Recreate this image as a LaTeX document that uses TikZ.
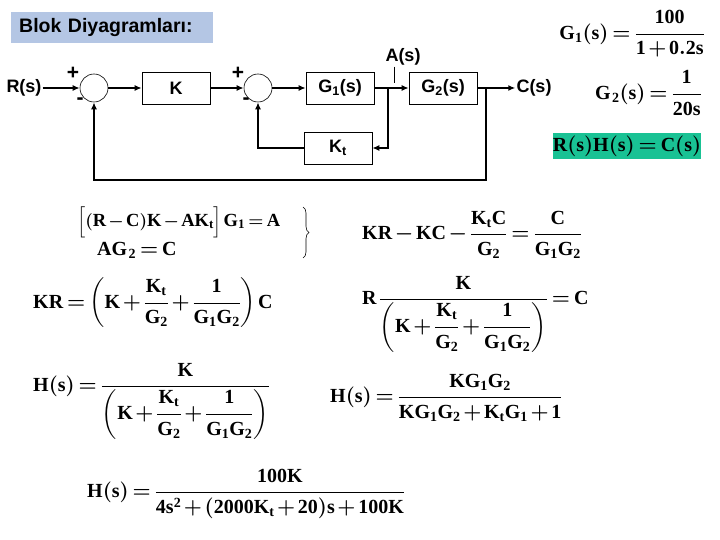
\documentclass[tikz,border=0pt]{standalone}
\usepackage{amsmath}
\usepackage{fontspec}
\setmainfont{Liberation Serif}
\setsansfont{Liberation Sans}
\newfontfamily\eqfont[NFSSFamily=lsr]{Liberation Serif}
\DeclareMathAlphabet{\mathbf}{TU}{lsr}{bx}{n}
\DeclareSymbolFont{operators}{TU}{lsr}{m}{n}
\SetSymbolFont{operators}{bold}{TU}{lsr}{bx}{n}
\providecommand{\eqspacing}{\medmuskip=2mu\thickmuskip=3mu\thinmuskip=1.5mu}
\usetikzlibrary{arrows.meta,decorations.pathreplacing}
\definecolor{titleblue}{RGB}{180,198,228}
\definecolor{resgreen}{RGB}{25,194,148}
\tikzset{
  sig/.style={line width=1.4pt, -{Latex[length=7pt,width=6pt]}},
  block/.style={draw, line width=0.6pt, minimum width=68pt, minimum height=32pt, inner sep=0pt,
    font=\sffamily\bfseries\fontsize{18}{20}\selectfont},
  sumnode/.style={draw, circle, line width=0.6pt, minimum size=28pt, inner sep=0pt},
  lbl/.style={inner sep=1pt, font=\sffamily\bfseries\fontsize{18}{20}\selectfont},
  sign/.style={inner sep=0pt, font=\sffamily\bfseries\fontsize{21}{22}\selectfont},
  eqn/.style={inner sep=0pt, anchor=west, font=\fontsize{20}{24}\selectfont\boldmath\eqspacing},
  bracenode/.style={line width=0.6pt, decorate, decoration={brace, amplitude=6pt}}
}
\begin{document}
\begin{tikzpicture}[x=1pt, y=-1pt]
\useasboundingbox (0,0) rectangle (720,540);
% Title
\node[lbl, font=\sffamily\bfseries\fontsize{19.5}{22}\selectfont, fill=titleblue, anchor=west, minimum height=31pt, inner xsep=8pt, text width=186pt, align=left] (title) at (11,27.5) {Blok Diyagramlar\i:};
% Blocks and summing points
\node[lbl] (R) at (24,88) {R(s)};
\node[sumnode] (s1) at (94,88) {};
\node[block] (K) at (176,88) {K};
\node[sumnode] (s2) at (258,88) {};
\node[block] (G1) at (340,88) {G\textsubscript{1}(s)};
\node[block] (G2) at (443,88) {G\textsubscript{2}(s)};
\node[block] (Kt) at (338,148) {K\textsubscript{t}};
\node[lbl] (C) at (534,88) {C(s)};
\node[lbl] (As) at (403,57) {A(s)};
\coordinate (A) at (388,88);
\coordinate (Cb) at (486,88);
\coordinate (fb) at (486,180);
% Signs
\node[sign] (p1) at (73,73) {+};
\node[sign] (m1) at (80,101) {-};
\node[sign] (p2) at (238,73) {+};
\node[sign] (m2) at (246,101) {-};
% Signals
\draw[sig] (R) -- (s1);
\draw[sig] (s1) -- (K);
\draw[sig] (K) -- (s2);
\draw[sig] (s2) -- (G1);
\draw[sig] (G1) -- (G2);
\draw[sig] (G2) -- (C);
\draw[sig] (A) |- (Kt);
\draw[sig] (Kt) -| (s2);
\draw[sig] (Cb) -- (fb) -| (s1);
\draw[line width=0.6pt] ([xshift=-9pt]As.south) -- ++(0,16);
% Given transfer functions
\node[eqn, anchor=east] (g1) at (705,34) {$\mathbf{G_1(s)}=\dfrac{\mathbf{100}}{\mathbf{1+0.2s}}$};
\node[eqn, anchor=east] (g2) at (702,93) {$\mathbf{G_{\,2}(s)}=\dfrac{\mathbf{1}}{\mathbf{20s}}$};
\node[eqn, anchor=center, fill=resgreen, minimum width=148pt, minimum height=26pt] (res) at (627,146) {$\mathbf{R(s)H(s)}=\mathbf{C(s)}$};
% Derivation, left column
\node[eqn, font=\fontsize{18.5}{22}\selectfont\boldmath\eqspacing] (e1) at (77,222) {$\Bigl[(\mathbf{R}-\mathbf{C})\mathbf{K}-\mathbf{AK_t}\Bigr]\,\mathbf{G_1}=\mathbf{A}$};
\node[eqn] (e2) at (97,250) {$\mathbf{AG_{\,2}}=\mathbf{C}$};
\draw[bracenode] (303,207) -- (303,258);
\node[eqn] (e3) at (33,303) {$\mathbf{KR}=\left(\mathbf{K}+\dfrac{\mathbf{K_t}}{\mathbf{G_2}}+\dfrac{\mathbf{1}}{\mathbf{G_1G_2}}\right)\mathbf{C}$};
\node[eqn] (e4) at (33,401) {$\mathbf{H(s)}=\dfrac{\mathbf{K}}{\left(\mathbf{K}+\dfrac{\mathbf{K_t}}{\mathbf{G_2}}+\dfrac{\mathbf{1}}{\mathbf{G_1G_2}}\right)}$};
\node[eqn] (e5) at (87,494) {$\mathbf{H(s)}=\dfrac{\mathbf{100K}}{\mathbf{4s^2}+\mathbf{(2000K_t}+\mathbf{20)s}+\mathbf{100K}}$};
% Derivation, right column
\node[eqn] (e6) at (362,235) {$\mathbf{KR}-\mathbf{KC}-\dfrac{\mathbf{K_tC}}{\mathbf{G_2}}=\dfrac{\mathbf{C}}{\mathbf{G_1G_2}}$};
\node[eqn] (e7) at (362,314) {$\mathbf{R}\,\dfrac{\mathbf{K}}{\left(\mathbf{K}+\dfrac{\mathbf{K_t}}{\mathbf{G_2}}+\dfrac{\mathbf{1}}{\mathbf{G_1G_2}}\right)}=\mathbf{C}$};
\node[eqn] (e8) at (330,398) {$\mathbf{H(s)}=\dfrac{\mathbf{KG_1G_2}}{\mathbf{KG_1G_2}+\mathbf{K_tG_1}+\mathbf{1}}$};
\end{tikzpicture}
\end{document}
